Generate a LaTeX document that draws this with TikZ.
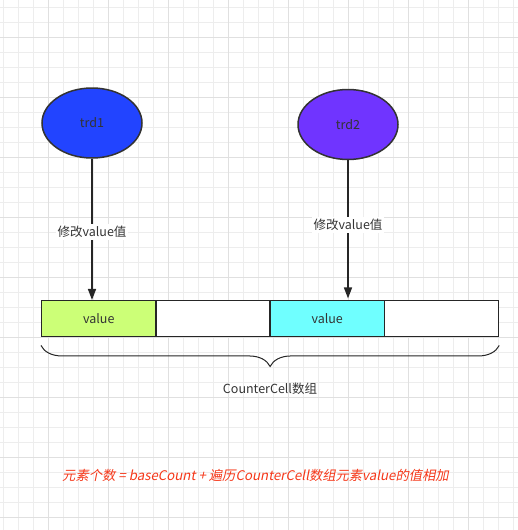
\documentclass[tikz,border=0pt]{standalone}
\usepackage{fontspec}
\setmainfont{Noto Sans CJK SC}
\newfontfamily\slantfont[FakeSlant=0.2]{Noto Sans CJK SC}
\usetikzlibrary{shapes.geometric,arrows.meta,decorations.pathreplacing}

\definecolor{trdblue}{RGB}{34,68,255}
\definecolor{trdpurple}{RGB}{112,52,255}
\definecolor{cellgreen}{RGB}{204,255,119}
\definecolor{cellcyan}{RGB}{111,255,255}
\definecolor{notered}{RGB}{245,55,25}

\begin{document}
\begin{tikzpicture}[x=1pt,y=-1pt,font=\fontsize{12.5}{14}\selectfont,text=black!80]
    \tikzstyle{thread}=[ellipse,draw=black!80,line width=1.5pt,minimum width=100pt,minimum height=70pt,inner sep=0pt]
    \tikzstyle{cell}=[rectangle,draw=black!85,line width=1.5pt,minimum width=114.2pt,minimum height=36pt,inner sep=0pt]
    \tikzstyle{write}=[draw=black!85,line width=1.5pt,-{Triangle[length=11pt,width=8pt]}]
    \tikzstyle{annot}=[fill=white,inner sep=2pt]

    \useasboundingbox (0,0) rectangle (518,530);

    % grid paper
    \foreach \x in {3,18,...,518}
        \draw[black!7] (\x,0) -- (\x,530);
    \foreach \y in {6.7,21.7,...,530}
        \draw[black!7] (0,\y) -- (518,\y);
    \foreach \x in {48,108,...,518}
        \draw[black!12] (\x,0) -- (\x,530);
    \foreach \y in {36.7,96.7,...,530}
        \draw[black!12] (0,\y) -- (518,\y);

    % threads
    \node[thread,fill=trdblue] (trd1) at (92,123) {trd1};
    \node[thread,fill=trdpurple] (trd2) at (348,124.5) {trd2};

    % counter cells
    \foreach \name / \col [count=\i] in {c1/cellgreen,c2/white,c3/cellcyan,c4/white}
        \node[cell,fill=\col] (\name) at (41.7+114.2*\i-57.1,318.7) {};
    \node at (c1) {value};
    \node at (c3) {value};

    \path[write] (trd1) -- node[annot,pos=0.52] {修改value值} (trd1 |- c1.north);
    \path[write] (trd2) -- node[annot,pos=0.47] {修改value值} ([yshift=1.5pt]trd2 |- c3.north);

    % brace under the array
    \coordinate (bl) at ([yshift=-8pt]c1.south west);
    \coordinate (br) at ([yshift=-8pt]c4.south east);
    \draw[black!85,line width=1pt,decorate,decoration={brace,mirror,amplitude=21pt,aspect=0.5}] (bl) -- (br);

    \node (arr) at (270,389) {CounterCell数组};

    %\node at (255,475) {...};
    \node[text=notered,font=\fontsize{13.3}{15}\selectfont\slantfont] (sum) at (255.5,475) {元素个数 = baseCount + 遍历CounterCell数组元素value的值相加};
\end{tikzpicture}
\end{document}
